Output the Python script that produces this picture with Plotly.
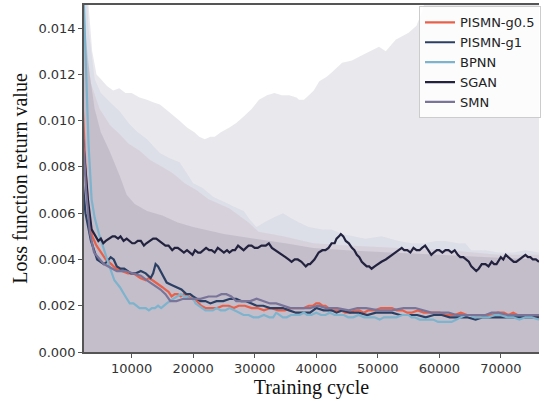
import plotly.graph_objects as go

# ---------------- data ----------------
sgan_x = [2000, 2300, 2900, 3500, 4200, 4600, 5000, 5400, 5800, 6300, 6900, 7300, 7800, 8200, 8700,
          9200, 9700, 10100, 10500, 11000, 11500, 12000, 12400, 13000, 13500, 14000, 14500, 15000,
          15500, 16000, 16600, 17000, 17500, 18000, 18500, 19000, 19400, 19900, 20300, 20800,
          21200, 21700, 22100, 22600, 23000, 23500, 24000, 24500, 25000, 25500, 25900, 26400,
          26800, 27300, 27700, 28200, 28600, 29000, 29500, 30000, 30500, 31100, 31800, 32300,
          32800, 33400, 34000, 34500, 35000, 35500, 36000, 36500, 37000, 37600, 38300, 38700,
          39000, 39700, 40400, 41000, 41500, 42000, 42500, 43000, 43300, 43700, 44000, 44400,
          44800, 45300, 45800, 46200, 46600, 47000, 47400, 47800, 48200, 48600, 49000, 49500,
          50000, 50600, 51300, 51800, 52300, 52800, 53300, 53900, 54300, 54800, 55300, 55800,
          56300, 56800, 57200, 57700, 58200, 58700, 59100, 59600, 60000, 60500, 61000, 61500,
          62000, 62500, 63000, 63400, 63900, 64300, 64800, 65200, 65600, 66000, 66400, 66900,
          67500, 68000, 68500, 68900, 69300, 69700, 70000, 70400, 70800, 71200, 71700, 72100,
          72500, 73000, 73500, 74000, 74400, 74800, 75200, 75700, 76200]
sgan_y = [0.0095, 0.0086, 0.0066, 0.0053, 0.0050, 0.0048, 0.0049, 0.0047, 0.0048, 0.0049, 0.0050,
          0.0050, 0.0049, 0.0050, 0.0048, 0.0049, 0.0048, 0.0047, 0.0047, 0.0048, 0.0048, 0.0046,
          0.0047, 0.0048, 0.0049, 0.0049, 0.0048, 0.0047, 0.0046, 0.0046, 0.0044, 0.0045, 0.0045,
          0.0044, 0.0043, 0.0044, 0.0043, 0.0042, 0.0044, 0.0043, 0.0043, 0.0044, 0.0045, 0.0044,
          0.0044, 0.0043, 0.0045, 0.0044, 0.0043, 0.0044, 0.0043, 0.0044, 0.0044, 0.0046, 0.0045,
          0.0044, 0.0045, 0.0046, 0.0046, 0.0045, 0.0045, 0.0046, 0.0046, 0.0047, 0.0045, 0.0044,
          0.0043, 0.0042, 0.0041, 0.0040, 0.0039, 0.0040, 0.0040, 0.0039, 0.0037, 0.0038, 0.0038,
          0.0040, 0.0043, 0.0044, 0.0044, 0.0045, 0.0047, 0.0047, 0.0049, 0.0050, 0.0051, 0.0050,
          0.0048, 0.0047, 0.0045, 0.0044, 0.0042, 0.0041, 0.0039, 0.0038, 0.0037, 0.0037, 0.0036,
          0.0037, 0.0038, 0.0039, 0.0040, 0.0041, 0.0042, 0.0043, 0.0044, 0.0045, 0.0044, 0.0044,
          0.0043, 0.0045, 0.0044, 0.0044, 0.0045, 0.0046, 0.0044, 0.0042, 0.0043, 0.0044, 0.0044,
          0.0043, 0.0044, 0.0044, 0.0043, 0.0044, 0.0042, 0.0041, 0.0041, 0.0040, 0.0039, 0.0037,
          0.0036, 0.0035, 0.0036, 0.0038, 0.0038, 0.0037, 0.0039, 0.0038, 0.0038, 0.0040, 0.0041,
          0.0040, 0.0042, 0.0041, 0.0040, 0.0039, 0.0039, 0.0040, 0.0041, 0.0042, 0.0041, 0.0041,
          0.0040, 0.0040, 0.0039, 0.0038, 0.0038]

bpnn_x = [2000, 2600, 3000, 3500, 4000, 4700, 5500, 6400, 7200, 8100, 9000, 9700, 10300, 10800,
          11300, 11800, 12300, 12800, 13300, 13800, 14300, 14800, 15200, 15700, 16200, 16800,
          17400, 18000, 18500, 19000, 19500, 20000, 20400, 20900, 21500, 22000, 22600, 23200,
          23800, 24500, 25200, 25900, 26700, 27500, 28200, 29000, 29800, 30600, 31500, 32400,
          33000, 33500, 34000, 34600, 35200, 35900, 36600, 37300, 38000, 38500, 39200, 40000,
          40800, 41500, 42200, 43000, 43700, 44500, 45200, 46000, 46900, 47800, 48600, 49500,
          50300, 51000, 52000, 53000, 54000, 55000, 55500, 56000, 56800, 57500, 58200, 59000,
          59800, 60500, 61200, 62000, 62800, 63500, 64200, 65000, 65700, 66500, 67200, 68000,
          69000, 70000, 71000, 72000, 73000, 74000, 75000, 76200]
bpnn_y = [0.0170, 0.0120, 0.0090, 0.0066, 0.0058, 0.0051, 0.0044, 0.0037, 0.0031, 0.0028, 0.0024,
          0.0021, 0.0021, 0.0020, 0.0019, 0.0019, 0.0019, 0.0018, 0.0019, 0.0019, 0.0020, 0.0019,
          0.0020, 0.0021, 0.0022, 0.0023, 0.0024, 0.0025, 0.0024, 0.0024, 0.0023, 0.0023, 0.0021,
          0.0020, 0.0019, 0.0018, 0.0018, 0.0018, 0.0019, 0.0018, 0.0018, 0.0019, 0.0018, 0.0017,
          0.0016, 0.0016, 0.0015, 0.0015, 0.0016, 0.0015, 0.0015, 0.0017, 0.0016, 0.0015, 0.0015,
          0.0016, 0.0016, 0.0016, 0.0017, 0.0016, 0.0016, 0.0017, 0.0016, 0.0016, 0.0017, 0.0016,
          0.0016, 0.0016, 0.0015, 0.0015, 0.0016, 0.0015, 0.0015, 0.0015, 0.0014, 0.0015, 0.0015,
          0.0015, 0.0016, 0.0016, 0.0015, 0.0015, 0.0014, 0.0014, 0.0014, 0.0014, 0.0013, 0.0013,
          0.0013, 0.0013, 0.0014, 0.0015, 0.0016, 0.0016, 0.0015, 0.0015, 0.0015, 0.0015, 0.0016,
          0.0016, 0.0015, 0.0015, 0.0014, 0.0015, 0.0015, 0.0014]

g05_x = [2000, 2500, 3000, 3600, 4300, 5000, 5800, 6700, 7500, 8400, 9400, 10300, 10900, 11400,
         12300, 12800, 13400, 14000, 14500, 15000, 15500, 16000, 16500, 17000, 17500, 18000,
         18500, 19100, 19800, 20600, 21300, 22000, 22900, 23900, 24800, 25800, 26600, 27400,
         28400, 29500, 30500, 31500, 32600, 33800, 34900, 36000, 37000, 38000, 38800, 39500,
         40000, 40500, 41000, 41500, 42000, 42500, 43200, 44000, 44700, 45500, 46200, 47000,
         47700, 48500, 49500, 50500, 51400, 52300, 53100, 54000, 54800, 55500, 56500, 57500,
         58700, 60000, 61200, 62500, 63500, 64500, 65500, 66500, 67500, 68500, 69500, 70500,
         71200, 72000, 72700, 73500, 74200, 75000, 76200]
g05_y = [0.0110, 0.0080, 0.0060, 0.0050, 0.0046, 0.0043, 0.0040, 0.0038, 0.0036, 0.0035, 0.0034,
         0.0034, 0.0033, 0.0032, 0.0031, 0.0032, 0.0031, 0.0030, 0.0029, 0.0028, 0.0027, 0.0026,
         0.0024, 0.0025, 0.0025, 0.0024, 0.0025, 0.0024, 0.0023, 0.0022, 0.0020, 0.0019, 0.0019,
         0.0019, 0.0020, 0.0020, 0.0019, 0.0020, 0.0020, 0.0019, 0.0019, 0.0018, 0.0019, 0.0018,
         0.0018, 0.0019, 0.0019, 0.0019, 0.0020, 0.0020, 0.0021, 0.0021, 0.0020, 0.0020, 0.0019,
         0.0018, 0.0018, 0.0018, 0.0017, 0.0017, 0.0018, 0.0018, 0.0017, 0.0018, 0.0018, 0.0019,
         0.0019, 0.0019, 0.0018, 0.0018, 0.0017, 0.0017, 0.0018, 0.0017, 0.0017, 0.0017, 0.0016,
         0.0016, 0.0017, 0.0016, 0.0016, 0.0015, 0.0016, 0.0016, 0.0017, 0.0017, 0.0016, 0.0017,
         0.0016, 0.0016, 0.0016, 0.0016, 0.0015]

g1_x = [2000, 2500, 3400, 4400, 5500, 6000, 6600, 7100, 7600, 8200, 8800, 9400, 9900, 10700, 11500,
        12300, 13100, 13500, 13900, 14300, 14700, 15200, 15700, 16500, 17300, 18100, 18900, 19500,
        20000, 20600, 21200, 22000, 22800, 23800, 24900, 26000, 27000, 27800, 28600, 29500,
        30300, 31400, 32500, 33500, 34600, 35600, 36700, 37800, 39000, 39500, 40000, 41200,
        42500, 43300, 44200, 45500, 46900, 48300, 49700, 51000, 52300, 53600, 55000, 56400,
        57800, 59100, 60400, 61700, 63100, 64500, 65900, 67100, 68400, 70000, 71700, 73000,
        74400, 76200]
g1_y = [0.0075, 0.0060, 0.0048, 0.0040, 0.0038, 0.0039, 0.0041, 0.0040, 0.0037, 0.0036, 0.0036,
        0.0035, 0.0034, 0.0034, 0.0035, 0.0034, 0.0032, 0.0034, 0.0038, 0.0037, 0.0035, 0.0032,
        0.0030, 0.0029, 0.0028, 0.0027, 0.0025, 0.0025, 0.0024, 0.0023, 0.0022, 0.0022, 0.0021,
        0.0022, 0.0022, 0.0023, 0.0023, 0.0022, 0.0022, 0.0021, 0.0020, 0.0020, 0.0019, 0.0019,
        0.0019, 0.0018, 0.0017, 0.0017, 0.0017, 0.0018, 0.0019, 0.0018, 0.0018, 0.0017, 0.0018,
        0.0017, 0.0017, 0.0016, 0.0017, 0.0017, 0.0017, 0.0016, 0.0016, 0.0016, 0.0015, 0.0016,
        0.0016, 0.0015, 0.0015, 0.0015, 0.0014, 0.0015, 0.0015, 0.0015, 0.0015, 0.0015, 0.0015,
        0.0015]

smn_x = [2000, 2600, 3200, 3900, 5500, 7600, 9000, 10400, 11500, 12500, 13600, 14700, 15500,
         16300, 17300, 18400, 19800, 21200, 22500, 23800, 24600, 25400, 26200, 27000, 28200,
         29300, 30300, 31400, 32500, 33500, 34600, 35800, 37400, 39000, 40300, 41600, 43400,
         45300, 46700, 48100, 50200, 52300, 54200, 56100, 57400, 58700, 60100, 61500, 62800,
         64200, 65900, 67500, 68500, 69600, 71000, 72300, 73600, 74900, 76200]
smn_y = [0.0100, 0.0070, 0.0052, 0.0043, 0.0038, 0.0035, 0.0035, 0.0034, 0.0033, 0.0031, 0.0029,
         0.0027, 0.0025, 0.0022, 0.0022, 0.0023, 0.0023, 0.0023, 0.0024, 0.0024, 0.0025, 0.0025,
         0.0024, 0.0022, 0.0022, 0.0022, 0.0023, 0.0022, 0.0021, 0.0021, 0.0020, 0.0019, 0.0019,
         0.0019, 0.0020, 0.0019, 0.0019, 0.0018, 0.0019, 0.0019, 0.0018, 0.0018, 0.0019, 0.0019,
         0.0018, 0.0017, 0.0017, 0.0017, 0.0016, 0.0016, 0.0016, 0.0016, 0.0017, 0.0017, 0.0016,
         0.0016, 0.0016, 0.0016, 0.0016]

# upper envelopes of the shaded bands (filled down to zero)
env1_x = [2000, 3000, 3600, 4300, 5000, 6000, 7000, 8000, 9000, 10000, 11300, 12500, 13500, 14600,
          16000, 17800, 19000, 20200, 21000, 21900, 22800, 23500, 24500, 25900, 27000, 28300,
          29500, 30700, 32000, 33200, 34400, 35600, 36800, 37200, 38000, 38800, 39600, 40500,
          41700, 42600, 44200, 45800, 48000, 50200, 51300, 52900, 55000, 56300, 57300, 58000,
          60000, 76200]
env1_y = [0.0200, 0.0150, 0.0130, 0.0120, 0.0118, 0.0115, 0.0113, 0.0114, 0.0112, 0.0112, 0.0110,
          0.0109, 0.0108, 0.0107, 0.0104, 0.0100, 0.0097, 0.0095, 0.0093, 0.0092, 0.0093, 0.0093,
          0.0095, 0.0097, 0.0099, 0.0102, 0.0105, 0.0109, 0.0111, 0.0112, 0.0111, 0.0111, 0.0110,
          0.0109, 0.0109, 0.0111, 0.0113, 0.0117, 0.0119, 0.0121, 0.0125, 0.0126, 0.0129, 0.0132,
          0.0130, 0.0135, 0.0138, 0.0141, 0.0148, 0.0155, 0.0165, 0.0165]

env2_x = [2000, 3000, 4000, 5000, 6500, 8100, 9500, 11000, 12500, 13500, 14600, 16000, 17800,
          18800, 20000, 21500, 23300, 25000, 26500, 28200, 29300, 30300, 31500, 33000, 34600,
          35800, 37200, 38800, 41000, 42500, 44200, 46000, 48000, 50600, 53400, 55500, 57500,
          59500, 61000, 63000, 64200, 65200, 67500, 69600, 72000, 74000, 76200]
env2_y = [0.0200, 0.0140, 0.0118, 0.0112, 0.0108, 0.0104, 0.0099, 0.0095, 0.0092, 0.0089, 0.0086,
          0.0084, 0.0082, 0.0078, 0.0073, 0.0071, 0.0067, 0.0065, 0.0063, 0.0061, 0.0057, 0.0054,
          0.0056, 0.0058, 0.0060, 0.0058, 0.0056, 0.0054, 0.0053, 0.0053, 0.0051, 0.0050, 0.0049,
          0.0050, 0.0048, 0.0047, 0.0047, 0.0048, 0.0048, 0.0047, 0.0047, 0.0044, 0.0044, 0.0043,
          0.0043, 0.0044, 0.0043]

env3_x = [2000, 2600, 3400, 4800, 6500, 8100, 9500, 11300, 13000, 15000, 16800, 18600, 20500,
          22500, 25900, 29000, 30600, 34600, 39500, 45000, 53400, 61500, 69600, 76200]
env3_y = [0.0180, 0.0130, 0.0116, 0.0105, 0.0098, 0.0094, 0.0090, 0.0087, 0.0083, 0.0080, 0.0077,
          0.0073, 0.0070, 0.0066, 0.0062, 0.0056, 0.0052, 0.0050, 0.0047, 0.0046, 0.0045, 0.0044,
          0.0042, 0.0042]

env4_x = [2000, 2600, 3200, 4000, 5000, 6400, 8100, 9200, 10500, 12500, 15000, 17500, 20000,
          25000, 30000, 35000, 39500, 45000, 52000, 60000, 68000, 76200]
env4_y = [0.0160, 0.0135, 0.0120, 0.0105, 0.0095, 0.0087, 0.0076, 0.0068, 0.0064, 0.0061, 0.0059,
          0.0056, 0.0054, 0.0051, 0.0049, 0.0047, 0.0045, 0.0044, 0.0043, 0.0042, 0.0041, 0.0040]

x_ticks = [10000, 20000, 30000, 40000, 50000, 60000, 70000]
y_ticks = [0.000, 0.002, 0.004, 0.006, 0.008, 0.010, 0.012, 0.014]

# ---------------- figure ----------------
fig = go.Figure()

bands = [
    (env1_x, env1_y, "rgba(35,35,75,0.10)"),
    (env2_x, env2_y, "rgba(130,150,200,0.12)"),
    (env3_x, env3_y, "rgba(185,125,140,0.13)"),
    (env4_x, env4_y, "rgba(85,85,110,0.15)"),
]
for bx, by, col in bands:
    fig.add_trace(go.Scatter(x=bx, y=by, mode="none", fill="tozeroy", fillcolor=col,
                             showlegend=False, hoverinfo="skip"))

lines = [
    ("PISMN-g0.5", g05_x, g05_y, "#e8604a"),
    ("PISMN-g1", g1_x, g1_y, "#2b3f63"),
    ("BPNN", bpnn_x, bpnn_y, "#7db3cc"),
    ("SGAN", sgan_x, sgan_y, "#22223f"),
    ("SMN", smn_x, smn_y, "#7a7499"),
]
for name, lx, ly, col in lines:
    fig.add_trace(go.Scatter(x=lx, y=ly, mode="lines", name=name,
                             line=dict(color=col, width=2.2)))

tick_font = dict(family="DejaVu Sans", size=13, color="#333333")
title_font = dict(family="Liberation Serif", size=20, color="#111111")

fig.update_layout(
    width=541, height=403,
    margin=dict(l=84, r=0, t=5, b=51),
    paper_bgcolor="white", plot_bgcolor="white",
    showlegend=True,
    legend=dict(x=0.737, y=0.996, xanchor="left", yanchor="top",
                bgcolor="rgba(255,255,255,0.85)", bordercolor="#cccccc", borderwidth=1,
                font=dict(family="DejaVu Sans", size=13, color="#222222"),
                itemwidth=30, tracegroupgap=0),
    xaxis=dict(range=[2265, 76200], tickvals=x_ticks, tickformat="d",
               showgrid=False, zeroline=False,
               showline=True, linecolor="#555555", linewidth=1.5, mirror=True,
               ticks="outside", ticklen=4, tickcolor="#555555",
               tickfont=tick_font,
               title=dict(text="Training cycle", font=title_font, standoff=4)),
    yaxis=dict(range=[0, 0.015], tickvals=y_ticks, tickformat=".3f",
               showgrid=False, zeroline=False,
               showline=True, linecolor="#555555", linewidth=1.5,
               ticks="outside", ticklen=4, tickcolor="#555555",
               tickfont=tick_font,
               title=dict(text="Loss function return value", font=title_font, standoff=5)),
)

fig.write_html("out.html")
